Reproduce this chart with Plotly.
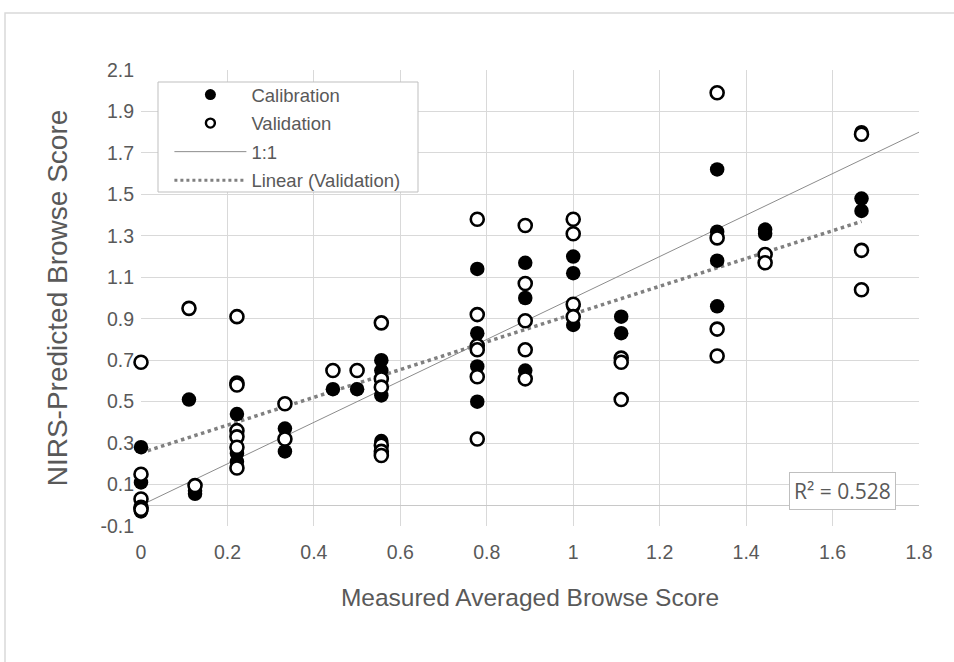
import plotly.graph_objects as go
import numpy as np

# Calibration set (measured averaged browse score, NIRS-predicted)
cal_x = [0, 0, 0,
         0.111, 0.125, 0.125,
         0.222, 0.222, 0.222,
         0.333, 0.333,
         0.444, 0.5,
         0.556, 0.556, 0.556, 0.556,
         0.778, 0.778, 0.778, 0.778,
         0.889, 0.889, 0.889,
         1.0, 1.0, 1.0, 1.0,
         1.111, 1.111,
         1.333, 1.333, 1.333, 1.333,
         1.444, 1.444,
         1.667, 1.667, 1.667]
cal_y = [0.28, 0.11, -0.03,
         0.51, 0.07, 0.055,
         0.44, 0.25, 0.21,
         0.37, 0.26,
         0.56, 0.56,
         0.70, 0.65, 0.53, 0.31,
         1.14, 0.83, 0.67, 0.50,
         1.17, 1.00, 0.65,
         1.20, 1.12, 0.96, 0.87,
         0.91, 0.83,
         1.62, 1.32, 1.18, 0.96,
         1.33, 1.31,
         1.80, 1.48, 1.42]

# Validation set
val_x = [0, 0, 0, 0, 0,
         0.111, 0.125,
         0.222, 0.222, 0.222, 0.222, 0.222, 0.222, 0.222,
         0.333, 0.333,
         0.444, 0.5,
         0.556, 0.556, 0.556, 0.556, 0.556, 0.556,
         0.778, 0.778, 0.778, 0.778, 0.778, 0.778,
         0.889, 0.889, 0.889, 0.889, 0.889,
         1.0, 1.0, 1.0, 1.0,
         1.111, 1.111, 1.111,
         1.333, 1.333, 1.333, 1.333,
         1.444, 1.444,
         1.667, 1.667, 1.667]
val_y = [0.69, 0.15, 0.03, -0.01, -0.02,
         0.95, 0.095,
         0.91, 0.59, 0.58, 0.36, 0.33, 0.28, 0.18,
         0.49, 0.32,
         0.65, 0.65,
         0.88, 0.61, 0.57, 0.29, 0.26, 0.24,
         1.38, 0.92, 0.77, 0.75, 0.62, 0.32,
         1.35, 1.07, 0.89, 0.75, 0.61,
         1.38, 1.31, 0.97, 0.91,
         0.71, 0.69, 0.51,
         1.99, 1.29, 0.85, 0.72,
         1.21, 1.17,
         1.79, 1.23, 1.04]

one_to_one = [0, 1.8]
x_ticks = [0, 0.2, 0.4, 0.6, 0.8, 1.0, 1.2, 1.4, 1.6, 1.8]
x_labels = ["0", "0.2", "0.4", "0.6", "0.8", "1", "1.2", "1.4", "1.6", "1.8"]
y_ticks = [-0.1, 0.1, 0.3, 0.5, 0.7, 0.9, 1.1, 1.3, 1.5, 1.7, 1.9, 2.1]
y_labels = ["-0.1", "0.1", "0.3", "0.5", "0.7", "0.9", "1.1", "1.3", "1.5", "1.7", "1.9", "2.1"]
r2_text = "R² = 0.528"

# Linear trend of validation data
slope, intercept = np.polyfit(val_x, val_y, 1)
tx = np.array([min(val_x), max(val_x)])
ty = slope * tx + intercept

TXT = "#595959"
GRID = "#d9d9d9"
FONT = "Liberation Sans, Arial, sans-serif"

fig = go.Figure()

fig.add_trace(go.Scatter(x=one_to_one, y=one_to_one, mode="lines",
                         line=dict(color="#8c8c8c", width=1), showlegend=False,
                         cliponaxis=False, hoverinfo="skip"))
fig.add_trace(go.Scatter(x=tx, y=ty, mode="lines",
                         line=dict(color="#808080", width=3.5, dash="dot"),
                         showlegend=False, hoverinfo="skip"))
fig.add_trace(go.Scatter(x=cal_x, y=cal_y, mode="markers",
                         marker=dict(symbol="circle", size=14.5, color="black",
                                     line=dict(width=0)),
                         showlegend=False, cliponaxis=False))
fig.add_trace(go.Scatter(x=val_x, y=val_y, mode="markers",
                         marker=dict(symbol="circle", size=13, color="white",
                                     line=dict(color="black", width=2.6)),
                         showlegend=False, cliponaxis=False))

# legend entries
fig.add_trace(go.Scatter(x=[None], y=[None], mode="markers", name="Calibration",
                         marker=dict(size=11, color="black"), legendgroup="a"))
fig.add_trace(go.Scatter(x=[None], y=[None], mode="markers", name="Validation",
                         marker=dict(size=9, color="white",
                                     line=dict(color="black", width=2.4)),
                         legendgroup="b"))
fig.add_trace(go.Scatter(x=[None], y=[None], mode="lines", name="1:1",
                         line=dict(color="#8c8c8c", width=1), legendgroup="c"))
fig.add_trace(go.Scatter(x=[None], y=[None], mode="lines", name="Linear (Validation)",
                         line=dict(color="#808080", width=3, dash="dot"),
                         legendgroup="d"))

fig.update_layout(
    width=954, height=662,
    margin=dict(l=141, r=35, t=70, b=136),
    paper_bgcolor="white", plot_bgcolor="white",
    font=dict(family=FONT, color=TXT, size=18),
    showlegend=True,
    legend=dict(x=0.0365, y=0.9868, xanchor="left", yanchor="top",
                bgcolor="rgba(0,0,0,0)", borderwidth=0,
                font=dict(size=18.5, color=TXT), itemwidth=72,
                tracegroupgap=1.5),
    xaxis=dict(range=[0, 1.8], tickvals=x_ticks, ticktext=x_labels,
               showgrid=True, gridcolor=GRID, gridwidth=1,
               zeroline=False, showline=False, ticks="",
               ticklabelstandoff=12,
               tickfont=dict(size=19.5, color=TXT),
               title=dict(text="Measured Averaged Browse Score",
                          font=dict(size=24.5, color=TXT), standoff=27)),
    yaxis=dict(range=[-0.1, 2.1], tickvals=y_ticks, ticktext=y_labels,
               showgrid=True, gridcolor=GRID, gridwidth=1,
               zeroline=True, zerolinecolor="#c8c8c8", zerolinewidth=1,
               showline=False, ticks="", ticklabelstandoff=6,
               tickfont=dict(size=19.5, color=TXT),
               title=dict(text="NIRS-Predicted Browse Score",
                          font=dict(size=28, color=TXT), standoff=24)),
    shapes=[
        # outer chart frame
        dict(type="rect", xref="paper", yref="paper",
             x0=-0.1748, x1=1.2, y0=-0.4, y1=1.125,
             line=dict(color="#d9d9d9", width=1.5), fillcolor="rgba(0,0,0,0)",
             layer="below"),
        # legend box
        dict(type="rect", xref="paper", yref="paper",
             x0=17 / 778, x1=277 / 778, y0=(526 - 192) / 456, y1=(526 - 82) / 456,
             line=dict(color="#bfbfbf", width=1), fillcolor="white", layer="above"),
    ],
    annotations=[
        dict(x=1.622, y=0.071, xref="x", yref="y", text=r2_text, showarrow=False,
             font=dict(size=21, color=TXT, family="Open Sans, sans-serif"),
             bgcolor="white", bordercolor="#bfbfbf", borderwidth=1, borderpad=4),
    ],
)

fig.write_html("out.html")
